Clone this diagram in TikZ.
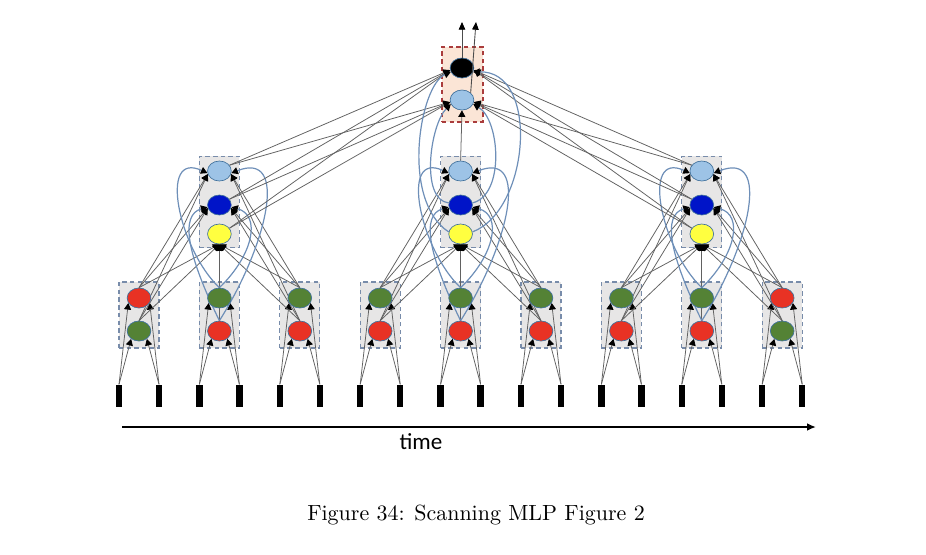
\documentclass[tikz,border=0pt]{standalone}
\usepackage{fontspec}
\newfontfamily\timefont{Carlito}
\usetikzlibrary{arrows.meta, shapes.geometric}
\pgfdeclarelayer{boxes}
\pgfdeclarelayer{wires}
\pgfsetlayers{boxes,wires,main}

\definecolor{nred}{RGB}{232,50,36}
\definecolor{ngreen}{RGB}{84,130,53}
\definecolor{nlight}{RGB}{157,195,230}
\definecolor{nblue}{RGB}{0,20,200}
\definecolor{nyellow}{RGB}{255,255,64}
\definecolor{rim}{RGB}{65,113,156}
\definecolor{boxgrey}{RGB}{231,230,230}
\definecolor{boxrim}{RGB}{120,140,170}
\definecolor{peach}{RGB}{251,229,214}
\definecolor{peachrim}{RGB}{170,60,60}
\definecolor{loopcol}{RGB}{110,143,184}

\begin{document}
\begin{tikzpicture}[x=0.016cm, y=-0.016cm, >={Triangle[length=3pt,width=3.2pt,color=black]},
  neuron/.style={ellipse, draw=rim, line width=0.3pt, minimum width=0.38cm, minimum height=0.32cm, inner sep=0pt},
  bar/.style={fill=black, minimum width=0.1cm, minimum height=0.36cm, inner sep=0pt},
  frame/.style={draw=boxrim, fill=boxgrey, dash pattern=on 2pt off 1.5pt, line width=0.5pt, inner sep=0pt, minimum width=0.64cm},
  wire/.style={->, draw=black!62, line width=0.35pt},
  curve/.style={->, draw=loopcol, line width=0.55pt}]

\useasboundingbox (0,0) rectangle (926,554);

% --- input layer: scanned bars and first boxes ---
\foreach \k/\up/\dn in {0/nred/ngreen,1/ngreen/nred,2/ngreen/nred,3/ngreen/nred,4/ngreen/nred,5/ngreen/nred,6/ngreen/nred,7/ngreen/nred,8/nred/ngreen} {
  \pgfmathsetmacro\cx{139+80.4*\k}
  \begin{pgfonlayer}{boxes}
    \node[frame, minimum height=1.056cm] (box\k) at (\cx,315) {};
  \end{pgfonlayer}
  \node[neuron, fill=\up] (hi\k) at (\cx,298) {};
  \node[neuron, fill=\dn] (lo\k) at (\cx,331) {};
  \node[bar] (inL\k) at (\cx-20,396) {};
  \node[bar] (inR\k) at (\cx+20,396) {};
  \begin{pgfonlayer}{wires}
    \draw[wire] (inL\k.north) -- (hi\k.205);
    \draw[wire] (inL\k.north) -- (lo\k.225);
    \draw[wire] (inR\k.north) -- (hi\k.-25);
    \draw[wire] (inR\k.north) -- (lo\k.-45);
  \end{pgfonlayer}
}

% --- middle layer ---
\foreach \m in {0,1,2} {
  \pgfmathtruncatemacro\l{3*\m}
  \pgfmathtruncatemacro\c{3*\m+1}
  \pgfmathtruncatemacro\r{3*\m+2}
  \pgfmathsetmacro\cx{139+80.4*\c}
  \begin{pgfonlayer}{boxes}
    \node[frame, minimum height=1.47cm] (mid\m) at (\cx,202) {};
  \end{pgfonlayer}
  \node[neuron, fill=nlight] (lb\m) at (\cx,171) {};
  \node[neuron, fill=nblue] (bl\m) at (\cx,205) {};
  \node[neuron, fill=nyellow] (ye\m) at (\cx,234) {};
  \begin{pgfonlayer}{wires}
    \foreach \t in {lb,bl} {
      \draw[wire] (hi\l.north) -- (\t\m.195);
      \draw[wire] (lo\l.north) -- (\t\m.195);
      \draw[wire] (hi\r.north) -- (\t\m.-15);
      \draw[wire] (lo\r.north) -- (\t\m.-15);
    }
    \foreach \s in {\l,\c,\r} {
      \draw[wire] (hi\s.north) -- (ye\m.south);
      \draw[wire] (lo\s.north) -- (ye\m.south);
    }
    % shared weights from the centre box
    \draw[curve] (hi\c.north) .. controls (\cx-40,250) and (\cx-62,150) .. (lb\m.190);
    \draw[curve] (lo\c.north) .. controls (\cx+48,245) and (\cx+70,150) .. (lb\m.-10);
    \draw[curve] (hi\c.north) .. controls (\cx+34,255) and (\cx+42,215) .. (bl\m.-10);
    \draw[curve] (lo\c.north) .. controls (\cx-32,255) and (\cx-40,215) .. (bl\m.190);
  \end{pgfonlayer}
}

% --- output layer ---
\begin{pgfonlayer}{boxes}
  \node[frame, draw=peachrim, fill=peach, minimum width=0.656cm, minimum height=1.2cm] (topbox) at (462.5,84.5) {};
\end{pgfonlayer}
\node[neuron, fill=black] (outB) at (462,68) {};
\node[neuron, fill=nlight] (outL) at (462,100) {};
\coordinate (yB) at (462,22);
\coordinate (yL) at (476,22);
\draw[->, >={Triangle[length=3.5pt,width=3pt,color=black]}, draw=black!70, line width=0.4pt] (outB.north) -- (yB);
\draw[->, >={Triangle[length=3.5pt,width=3pt,color=black]}, draw=black!70, line width=0.4pt] (outL.40) -- (yL);

\begin{pgfonlayer}{wires}
  \foreach \t in {lb,bl,ye} {
    \draw[wire] (\t0.30) -- (outB.190);
    \draw[wire] (\t0.30) -- (outL.190);
    \draw[wire] (\t2.150) -- (outB.-10);
    \draw[wire] (\t2.150) -- (outL.-10);
  }
  \draw[wire] (lb1.north) -- (outL.south);
  \draw[curve] (ye1.170) .. controls (400,200) and (420,85) .. (outB.200);
  \draw[curve] (bl1.170) .. controls (420,200) and (430,125) .. (outL.200);
  \draw[curve] (ye1.10) .. controls (530,210) and (540,70) .. (outB.-20);
  \draw[curve] (bl1.10) .. controls (505,195) and (500,120) .. (outL.-20);
\end{pgfonlayer}

% time axis
\coordinate (t0) at (122,427);
\coordinate (t1) at (816,427);
\draw[line width=0.9pt, -{Latex[length=4pt,width=3.5pt]}] (t0) -- (t1);
\node[font=\timefont\fontsize{10.5}{12}\selectfont] (tlabel) at (421,442) {time};

\node (caption) at (476,515) {Figure 34: Scanning MLP Figure 2};

\end{tikzpicture}
\end{document}
